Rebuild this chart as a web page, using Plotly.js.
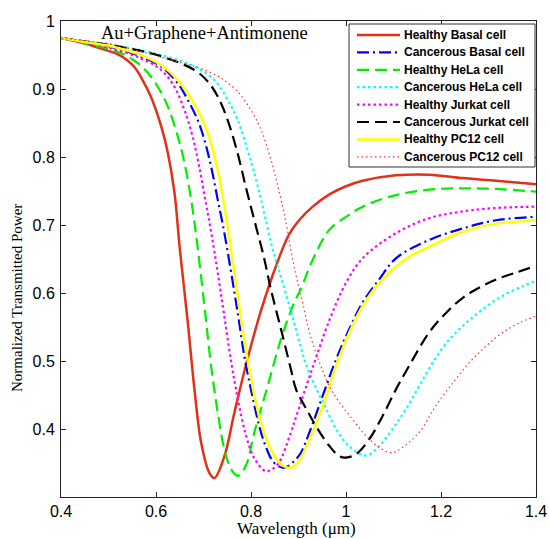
<!DOCTYPE html>
<html>
<head>
<meta charset="utf-8">
<script src="https://cdn.plot.ly/plotly-3.0.1.min.js"></script>
<style>
html,body{margin:0;padding:0;background:#fff;}
#chart{width:549px;height:539px;}
</style>
</head>
<body>
<div id="chart"></div>
<script>
// Wavelength (µm) and normalized transmitted power
const seriesNames = ["Healthy Basal cell","Cancerous Basal cell","Healthy HeLa cell","Cancerous HeLa cell",
  "Healthy Jurkat cell","Cancerous Jurkat cell","Healthy PC12 cell","Cancerous PC12 cell"];

const healthyBasalX = [0.4,0.45,0.5,0.52,0.54,0.555,0.568,0.589,0.611,0.625,0.639,0.650,0.667,0.681,0.695,0.712,0.723,0.744,0.765,0.789,0.821,0.856,0.88,0.905,0.93,0.965,1.0,1.035,1.105,1.175,1.246,1.316,1.4];
const healthyBasalY = [0.975,0.967,0.956,0.951,0.942,0.932,0.918,0.889,0.845,0.806,0.747,0.666,0.556,0.458,0.380,0.336,0.328,0.360,0.424,0.493,0.574,0.646,0.686,0.710,0.727,0.745,0.757,0.765,0.773,0.774,0.769,0.765,0.760];

const cancerBasalX = [0.4,0.45,0.505,0.56,0.611,0.646,0.667,0.688,0.702,0.716,0.730,0.744,0.772,0.786,0.800,0.814,0.828,0.849,0.870,0.891,0.905,0.923,0.951,0.979,1.007,1.035,1.070,1.105,1.175,1.246,1.316,1.4];
const cancerBasalY = [0.975,0.969,0.962,0.950,0.933,0.908,0.884,0.854,0.825,0.786,0.737,0.688,0.571,0.507,0.458,0.414,0.380,0.350,0.343,0.353,0.365,0.395,0.449,0.502,0.547,0.586,0.620,0.651,0.678,0.695,0.707,0.712];

const healthyHelaX = [0.4,0.45,0.505,0.540,0.575,0.604,0.625,0.646,0.660,0.674,0.684,0.702,0.716,0.730,0.744,0.758,0.772,0.789,0.807,0.835,0.863,0.891,0.905,0.930,0.965,1.0,1.035,1.105,1.175,1.246,1.316,1.4];
const healthyHelaY = [0.975,0.967,0.958,0.948,0.930,0.903,0.874,0.830,0.791,0.737,0.688,0.581,0.493,0.424,0.370,0.341,0.331,0.346,0.395,0.463,0.532,0.586,0.606,0.649,0.693,0.712,0.727,0.744,0.752,0.754,0.753,0.749];

const cancerHelaX = [0.4,0.45,0.505,0.611,0.681,0.723,0.751,0.772,0.793,0.811,0.828,0.846,0.856,0.891,0.905,0.916,0.937,0.958,0.979,1.006,1.042,1.070,1.098,1.126,1.154,1.183,1.218,1.253,1.288,1.330,1.372,1.4];
const cancerHelaY = [0.975,0.970,0.965,0.950,0.933,0.913,0.884,0.854,0.810,0.766,0.717,0.663,0.640,0.556,0.520,0.495,0.460,0.430,0.400,0.375,0.361,0.375,0.400,0.429,0.463,0.498,0.532,0.556,0.576,0.596,0.610,0.618];

const healthyJurkatX = [0.4,0.45,0.505,0.568,0.611,0.639,0.660,0.677,0.691,0.705,0.716,0.730,0.744,0.758,0.772,0.789,0.807,0.832,0.856,0.884,0.895,0.916,0.937,0.965,1.0,1.035,1.105,1.175,1.246,1.316,1.4];
const healthyJurkatY = [0.975,0.968,0.960,0.945,0.928,0.903,0.869,0.830,0.786,0.732,0.690,0.630,0.565,0.500,0.445,0.392,0.357,0.338,0.348,0.395,0.418,0.462,0.505,0.560,0.615,0.651,0.688,0.710,0.720,0.725,0.727];

const cancerJurkatX = [0.4,0.45,0.540,0.611,0.681,0.709,0.730,0.751,0.772,0.789,0.807,0.826,0.842,0.863,0.884,0.895,0.916,0.937,0.965,0.986,1.0,1.021,1.049,1.077,1.105,1.133,1.175,1.211,1.246,1.281,1.316,1.358,1.4];
const cancerJurkatY = [0.975,0.970,0.960,0.948,0.928,0.911,0.889,0.854,0.805,0.756,0.707,0.656,0.605,0.547,0.488,0.458,0.430,0.404,0.375,0.360,0.358,0.363,0.385,0.419,0.458,0.493,0.542,0.571,0.593,0.608,0.620,0.630,0.640];

const healthyPc12X = [0.4,0.45,0.505,0.56,0.611,0.646,0.695,0.716,0.730,0.744,0.754,0.779,0.793,0.807,0.821,0.842,0.863,0.881,0.898,0.923,0.951,0.979,1.007,1.035,1.070,1.126,1.175,1.246,1.316,1.4];
const healthyPc12Y = [0.975,0.969,0.963,0.952,0.935,0.913,0.859,0.820,0.781,0.727,0.683,0.561,0.502,0.449,0.409,0.370,0.348,0.343,0.350,0.385,0.434,0.493,0.542,0.581,0.615,0.650,0.668,0.690,0.702,0.707];

const cancerPc12X = [0.4,0.45,0.505,0.646,0.695,0.737,0.772,0.800,0.821,0.842,0.860,0.874,0.884,0.895,0.909,0.923,0.944,0.965,0.986,1.014,1.042,1.070,1.095,1.119,1.154,1.189,1.225,1.260,1.295,1.330,1.365,1.4];
const cancerPc12Y = [0.975,0.971,0.966,0.940,0.930,0.916,0.896,0.869,0.840,0.796,0.747,0.702,0.663,0.625,0.585,0.542,0.498,0.463,0.439,0.414,0.390,0.373,0.365,0.373,0.395,0.434,0.468,0.498,0.522,0.542,0.556,0.566];

const xTicks = [0.4,0.6,0.8,1,1.2,1.4];
const yTicks = [0.4,0.5,0.6,0.7,0.8,0.9,1];

const xs = [healthyBasalX,cancerBasalX,healthyHelaX,cancerHelaX,healthyJurkatX,cancerJurkatX,healthyPc12X,cancerPc12X];
const ys = [healthyBasalY,cancerBasalY,healthyHelaY,cancerHelaY,healthyJurkatY,cancerJurkatY,healthyPc12Y,cancerPc12Y];
const styles = [
  {color:'#e2301a', width:2.5, dash:'solid'},
  {color:'#0000ff', width:2.2, dash:'12px,4px,2px,4px'},
  {color:'#00ee00', width:2.2, dash:'12px,6px'},
  {color:'#00ffff', width:2.2, dash:'2.5px,3px'},
  {color:'#ff00ff', width:2.2, dash:'2.5px,3px'},
  {color:'#000000', width:2.2, dash:'12px,6px'},
  {color:'#ffff00', width:2.5, dash:'solid'},
  {color:'#ff3030', width:1.2, dash:'1.5px,3px'}
];

const traces = seriesNames.map((n,i)=>({
  x: xs[i], y: ys[i], name: n, type:'scatter', mode:'lines',
  line: Object.assign({shape:'spline', smoothing:1}, styles[i])
}));

// plot-area pixel frame (used only to place decorations)
const L = 61, R = 536, T = 21, B = 497;
const px = v => (v - L) / (R - L);
const py = v => (B - v) / (B - T);

const serif = 'Liberation Serif, Times New Roman, serif';
const shapes = [{type:'rect', xref:'paper', yref:'paper', x0:px(349), x1:px(535), y0:py(167), y1:py(24),
  fillcolor:'#fff', line:{color:'#333', width:1}, layer:'above'}];
const annotations = [
  {text:'Au+Graphene+Antimonene', xref:'paper', yref:'paper', x:px(204), y:py(33),
   xanchor:'center', yanchor:'middle', showarrow:false,
   font:{family:serif, size:18.5, color:'#000'}},
  {text:'Wavelength (μm)', xref:'paper', yref:'paper', x:px(296), y:py(538.5),
   xanchor:'center', yanchor:'bottom', showarrow:false, borderpad:0,
   font:{family:serif, size:17, color:'#000'}},
  {text:'Normalized Transmitted Power', xref:'paper', yref:'paper', x:px(17), y:py(298),
   xanchor:'center', yanchor:'middle', textangle:-90, showarrow:false,
   font:{family:serif, size:15, color:'#000'}}
];
seriesNames.forEach((n,i)=>{
  const rowY = 35 + 17.4*i;
  shapes.push({type:'line', xref:'paper', yref:'paper', x0:px(357), x1:px(400), y0:py(rowY), y1:py(rowY),
    line:{color:styles[i].color, width:styles[i].width, dash:styles[i].dash}, layer:'above'});
  annotations.push({text:'<b>'+n+'</b>', xref:'paper', yref:'paper', x:px(402), y:py(rowY),
    xanchor:'left', yanchor:'middle', showarrow:false,
    font:{family:'Arial, Liberation Sans, sans-serif', size:12, color:'#000'}});
});

const axisCommon = {
  showgrid:false, zeroline:false, showline:true, linecolor:'#222', linewidth:1,
  mirror:'allticks', ticks:'inside', ticklen:5, tickcolor:'#222',
  tickfont:{family:'Arial, Liberation Sans, sans-serif', size:16, color:'#000'}
};

const layout = {
  width:549, height:539,
  margin:{l:L, r:549-R, t:T, b:539-B},
  paper_bgcolor:'#fff', plot_bgcolor:'#fff',
  showlegend:false,
  xaxis: Object.assign({}, axisCommon, {range:[0.4,1.4], tickvals:xTicks, ticktext:xTicks.map(String)}),
  yaxis: Object.assign({}, axisCommon, {range:[0.3,1], tickvals:yTicks, ticktext:yTicks.map(String), ticklabelstandoff:2}),
  shapes: shapes,
  annotations: annotations
};

Plotly.newPlot('chart', traces, layout, {displayModeBar:false, staticPlot:true});
</script>
</body>
</html>
